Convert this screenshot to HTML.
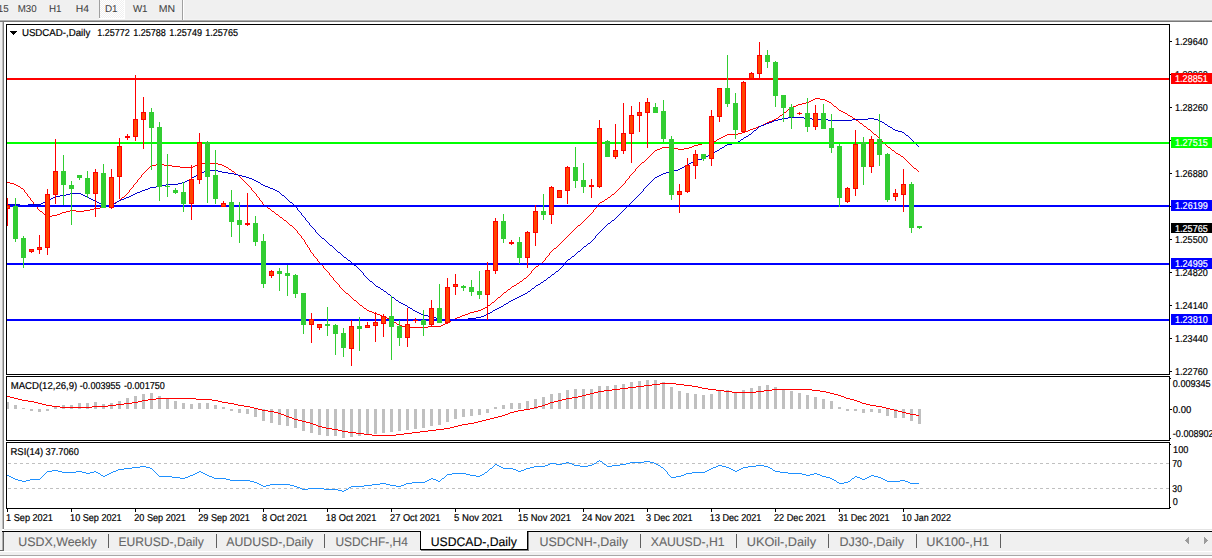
<!DOCTYPE html>
<html><head><meta charset="utf-8"><title>USDCAD-,Daily</title>
<style>
html,body{margin:0;padding:0;background:#fff;overflow:hidden}
svg{display:block;font-family:"Liberation Sans",sans-serif}
</style></head><body>
<svg width="1212" height="558" viewBox="0 0 1212 558" shape-rendering="crispEdges" text-rendering="geometricPrecision">
<defs>
<clipPath id="cm"><rect x="7" y="25" width="1162" height="349"/></clipPath>
<clipPath id="c2"><rect x="7" y="377" width="1162" height="63"/></clipPath>
<clipPath id="c3"><rect x="7" y="443" width="1162" height="65"/></clipPath>
<pattern id="ck" width="2" height="2" patternUnits="userSpaceOnUse"><rect width="2" height="2" fill="#f0f0f0"/><rect width="1" height="1" fill="#ffffff"/><rect x="1" y="1" width="1" height="1" fill="#ffffff"/></pattern>
</defs>
<rect x="0" y="0" width="1212" height="558" fill="#ffffff"/>
<rect x="0" y="0" width="1212" height="19" fill="#f0f0f0"/>
<rect x="0" y="19" width="1212" height="1" fill="#f4f4f4"/>
<rect x="0" y="20" width="1212" height="1" fill="#b0b0b0"/>
<rect x="0" y="21" width="1212" height="1" fill="#787878"/>
<rect x="100" y="0" width="24" height="18" fill="url(#ck)"/>
<rect x="99" y="0" width="1" height="18" fill="#a0a0a0"/>
<rect x="99" y="18" width="26" height="1" fill="#ffffff"/>
<rect x="124" y="0" width="1" height="18" fill="#ffffff"/>
<rect x="182" y="0" width="1" height="20" fill="#a0a0a0"/>
<rect x="183" y="0" width="1" height="20" fill="#ffffff"/>
<text x="-2.31" y="12" font-size="10.0" fill="#404040" stroke="#404040" stroke-width="0.05" textLength="10.90" lengthAdjust="spacingAndGlyphs" xml:space="preserve">15</text>
<text x="17.70" y="12" font-size="10.0" fill="#404040" stroke="#404040" stroke-width="0.05" textLength="18.92" lengthAdjust="spacingAndGlyphs" xml:space="preserve">M30</text>
<text x="48.94" y="12" font-size="10.0" fill="#404040" stroke="#404040" stroke-width="0.05" textLength="12.57" lengthAdjust="spacingAndGlyphs" xml:space="preserve">H1</text>
<text x="75.85" y="12" font-size="10.0" fill="#404040" stroke="#404040" stroke-width="0.05" textLength="13.22" lengthAdjust="spacingAndGlyphs" xml:space="preserve">H4</text>
<text x="104.99" y="12" font-size="10.0" fill="#404040" stroke="#404040" stroke-width="0.05" textLength="12.62" lengthAdjust="spacingAndGlyphs" xml:space="preserve">D1</text>
<text x="132.90" y="12" font-size="10.0" fill="#404040" stroke="#404040" stroke-width="0.05" textLength="14.65" lengthAdjust="spacingAndGlyphs" xml:space="preserve">W1</text>
<text x="158.73" y="12" font-size="10.0" fill="#404040" stroke="#404040" stroke-width="0.05" textLength="16.32" lengthAdjust="spacingAndGlyphs" xml:space="preserve">MN</text>
<rect x="0" y="22" width="2" height="508" fill="#f0f0f0"/>
<rect x="2" y="22" width="1" height="507" fill="#c0c0c0"/>
<rect x="3" y="22" width="1" height="507" fill="#808080"/>
<rect x="0" y="532" width="1212" height="19" fill="#f0f0f0"/>
<rect x="2" y="531" width="1210" height="1" fill="#000"/>
<rect x="0" y="551" width="1212" height="1" fill="#ffffff"/>
<rect x="0" y="552" width="1212" height="3" fill="#f0f0f0"/>
<rect x="0" y="555" width="1212" height="1" fill="#a8a8a8"/>
<rect x="4" y="529" width="1208" height="1" fill="#e4e4e4"/>
<rect x="0" y="556" width="1212" height="2" fill="#ffffff"/>
<rect x="0" y="530" width="2" height="20" fill="#f0f0f0"/>
<rect x="2" y="532" width="1" height="18" fill="#b0b0b0"/>
<rect x="3" y="532" width="1" height="18" fill="#606060"/>
<rect x="0" y="550" width="4" height="1" fill="#696969"/>
<rect x="421" y="531" width="107" height="18" fill="#ffffff"/>
<rect x="420" y="531" width="1" height="19" fill="#000"/>
<rect x="527" y="531" width="1" height="19" fill="#000"/>
<rect x="420" y="549" width="108" height="1" fill="#000"/>
<rect x="528" y="532" width="1" height="19" fill="#808080"/>
<rect x="421" y="550" width="108" height="1" fill="#808080"/>
<text x="18.30" y="546" font-size="12.5" fill="#666666" stroke="#666666" stroke-width="0.1" textLength="78.36" lengthAdjust="spacingAndGlyphs" xml:space="preserve">USDX,Weekly</text>
<text x="118.50" y="546" font-size="12.5" fill="#666666" stroke="#666666" stroke-width="0.1" textLength="85.30" lengthAdjust="spacingAndGlyphs" xml:space="preserve">EURUSD-,Daily</text>
<text x="226.25" y="546" font-size="12.5" fill="#666666" stroke="#666666" stroke-width="0.1" textLength="86.81" lengthAdjust="spacingAndGlyphs" xml:space="preserve">AUDUSD-,Daily</text>
<text x="335.39" y="546" font-size="12.5" fill="#666666" stroke="#666666" stroke-width="0.1" textLength="72.41" lengthAdjust="spacingAndGlyphs" xml:space="preserve">USDCHF-,H4</text>
<text x="430.72" y="546" font-size="12.5" fill="#000" stroke="#000" stroke-width="0.15" textLength="86.14" lengthAdjust="spacingAndGlyphs" xml:space="preserve">USDCAD-,Daily</text>
<text x="539.60" y="546" font-size="12.5" fill="#666666" stroke="#666666" stroke-width="0.1" textLength="88.37" lengthAdjust="spacingAndGlyphs" xml:space="preserve">USDCNH-,Daily</text>
<text x="650.75" y="546" font-size="12.5" fill="#666666" stroke="#666666" stroke-width="0.1" textLength="73.82" lengthAdjust="spacingAndGlyphs" xml:space="preserve">XAUUSD-,H1</text>
<text x="746.83" y="546" font-size="12.5" fill="#666666" stroke="#666666" stroke-width="0.1" textLength="69.19" lengthAdjust="spacingAndGlyphs" xml:space="preserve">UKOil-,Daily</text>
<text x="839.47" y="546" font-size="12.5" fill="#666666" stroke="#666666" stroke-width="0.1" textLength="64.57" lengthAdjust="spacingAndGlyphs" xml:space="preserve">DJ30-,Daily</text>
<text x="926.33" y="546" font-size="12.5" fill="#666666" stroke="#666666" stroke-width="0.1" textLength="62.80" lengthAdjust="spacingAndGlyphs" xml:space="preserve">UK100-,H1</text>
<rect x="108" y="534" width="1" height="14" fill="#606060"/>
<rect x="216" y="534" width="1" height="14" fill="#606060"/>
<rect x="324" y="534" width="1" height="14" fill="#606060"/>
<rect x="640" y="534" width="1" height="14" fill="#606060"/>
<rect x="736" y="534" width="1" height="14" fill="#606060"/>
<rect x="828" y="534" width="1" height="14" fill="#606060"/>
<rect x="916" y="534" width="1" height="14" fill="#606060"/>
<rect x="1000" y="534" width="1" height="14" fill="#606060"/>
<g clip-path="url(#cm)">
<path d="M815 98.5h5M813 99.5h2M820 99.5h5M811 100.5h2M825 100.5h2M809 101.5h2M827 101.5h2M806 102.5h3M829 102.5h2M802 103.5h4M831 103.5h1M798 104.5h4M832 104.5h1M796 105.5h2M833 105.5h1M793 106.5h3M834 106.5h2M791 107.5h2M836 107.5h1M790 108.5h1M837 108.5h1M788 109.5h2M838 109.5h1M787 110.5h1M839 110.5h2M786 111.5h1M841 111.5h2M784 112.5h2M843 112.5h2M783 113.5h1M845 113.5h2M782 114.5h1M847 114.5h1M780 115.5h2M848 115.5h2M779 116.5h1M850 116.5h2M778 117.5h1M852 117.5h1M776 118.5h2M853 118.5h2M774 119.5h2M855 119.5h1M772 120.5h2M856 120.5h2M769 121.5h3M858 121.5h1M767 122.5h2M859 122.5h1M765 123.5h2M860 123.5h2M763 124.5h2M862 124.5h1M761 125.5h2M863 125.5h1M758 126.5h3M864 126.5h2M756 127.5h2M866 127.5h1M753 128.5h3M867 128.5h1M750 129.5h3M868 129.5h2M748 130.5h2M870 130.5h1M745 131.5h3M871 131.5h1M742 132.5h3M872 132.5h1M738 133.5h4M873 133.5h1M727 134.5h11M874 134.5h2M725 135.5h2M876 135.5h1M723 136.5h2M877 136.5h1M721 137.5h2M878 137.5h1M719 138.5h2M879 138.5h1M717 139.5h2M880 139.5h1M716 140.5h1M881 140.5h1M714 141.5h2M882 141.5h1M712 142.5h2M883 142.5h1M702 143.5h10M884 143.5h1M698 144.5h4M885 144.5h1M694 145.5h4M886 145.5h1M692 146.5h2M887 146.5h1M662 147.5h12M689 147.5h3M888 147.5h2M660 148.5h2M674 148.5h4M684 148.5h5M890 148.5h1M657 149.5h3M678 149.5h6M891 149.5h1M655 150.5h2M892 150.5h2M654 151.5h1M894 151.5h1M653 152.5h1M895 152.5h1M652 153.5h1M896 153.5h2M651 154.5h1M898 154.5h2M650 155.5h1M900 155.5h1M649 156.5h1M901 156.5h2M648 157.5h1M903 157.5h1M647 158.5h1M904 158.5h1M646 159.5h1M905 159.5h1M645 160.5h1M906 160.5h1M644 161.5h1M907 161.5h1M642 162.5h2M908 162.5h1M199 163.5h19M641 163.5h1M909 163.5h1M156 164.5h8M197 164.5h2M218 164.5h4M640 164.5h1M910 164.5h1M151 165.5h5M164 165.5h8M195 165.5h2M222 165.5h2M639 165.5h1M911 165.5h1M150 166.5h1M172 166.5h8M193 166.5h2M224 166.5h2M638 166.5h1M912 166.5h1M149 167.5h1M180 167.5h13M226 167.5h2M637 167.5h1M913 167.5h1M148 168.5h1M228 168.5h1M636 168.5h1M914 168.5h2M147 169.5h1M229 169.5h2M635 169.5h1M916 169.5h1M146 170.5h1M231 170.5h1M635 170.5h1M917 170.5h1M145 171.5h1M232 171.5h2M634 171.5h1M918 171.5h1M144 172.5h1M234 172.5h1M633 172.5h1M143 173.5h1M235 173.5h1M632 173.5h1M142 174.5h1M236 174.5h2M631 174.5h1M141 175.5h1M238 175.5h1M630 175.5h1M141 176.5h1M239 176.5h1M629 176.5h1M140 177.5h1M240 177.5h1M629 177.5h1M139 178.5h1M241 178.5h1M628 178.5h1M138 179.5h1M242 179.5h1M627 179.5h1M137 180.5h1M243 180.5h1M626 180.5h1M137 181.5h1M244 181.5h1M625 181.5h1M7 182.5h3M136 182.5h1M245 182.5h1M625 182.5h1M10 183.5h4M135 183.5h1M246 183.5h1M624 183.5h1M14 184.5h2M134 184.5h1M247 184.5h1M623 184.5h1M16 185.5h2M133 185.5h1M248 185.5h1M622 185.5h1M18 186.5h2M133 186.5h1M249 186.5h1M621 186.5h1M20 187.5h1M132 187.5h1M250 187.5h1M620 187.5h1M21 188.5h2M131 188.5h1M251 188.5h1M619 188.5h1M23 189.5h1M130 189.5h1M251 189.5h1M618 189.5h1M24 190.5h1M129 190.5h1M252 190.5h1M617 190.5h1M24 191.5h1M129 191.5h1M253 191.5h1M616 191.5h1M25 192.5h1M128 192.5h1M254 192.5h1M615 192.5h1M26 193.5h1M127 193.5h1M255 193.5h1M614 193.5h1M27 194.5h1M126 194.5h1M256 194.5h1M612 194.5h2M27 195.5h1M125 195.5h1M256 195.5h1M611 195.5h1M28 196.5h1M124 196.5h1M257 196.5h1M610 196.5h1M29 197.5h1M122 197.5h2M258 197.5h1M608 197.5h2M30 198.5h1M121 198.5h1M259 198.5h1M607 198.5h1M30 199.5h1M120 199.5h1M259 199.5h1M605 199.5h2M31 200.5h1M119 200.5h1M260 200.5h1M604 200.5h1M32 201.5h1M117 201.5h2M261 201.5h1M602 201.5h2M33 202.5h1M115 202.5h2M262 202.5h1M600 202.5h2M33 203.5h1M113 203.5h2M262 203.5h1M599 203.5h1M34 204.5h1M110 204.5h3M263 204.5h1M598 204.5h1M35 205.5h1M108 205.5h2M264 205.5h2M597 205.5h1M36 206.5h1M105 206.5h3M266 206.5h1M597 206.5h1M37 207.5h1M100 207.5h5M267 207.5h1M596 207.5h1M37 208.5h1M94 208.5h6M268 208.5h2M595 208.5h1M38 209.5h1M90 209.5h4M270 209.5h1M594 209.5h1M39 210.5h1M70 210.5h6M84 210.5h6M271 210.5h1M593 210.5h1M40 211.5h2M66 211.5h4M76 211.5h8M272 211.5h2M593 211.5h1M42 212.5h1M62 212.5h4M274 212.5h1M592 212.5h1M43 213.5h1M60 213.5h2M275 213.5h1M591 213.5h1M44 214.5h2M57 214.5h3M276 214.5h2M590 214.5h1M46 215.5h1M52 215.5h5M278 215.5h1M589 215.5h1M47 216.5h5M279 216.5h1M588 216.5h1M280 217.5h2M587 217.5h1M282 218.5h1M586 218.5h1M283 219.5h1M585 219.5h1M284 220.5h2M584 220.5h1M286 221.5h1M583 221.5h1M287 222.5h1M582 222.5h1M288 223.5h1M581 223.5h1M289 224.5h1M580 224.5h1M290 225.5h2M578 225.5h2M292 226.5h1M577 226.5h1M293 227.5h1M576 227.5h1M294 228.5h1M575 228.5h1M295 229.5h1M574 229.5h1M296 230.5h1M573 230.5h1M297 231.5h1M572 231.5h1M297 232.5h1M571 232.5h1M298 233.5h1M570 233.5h1M299 234.5h1M569 234.5h1M300 235.5h1M568 235.5h1M301 236.5h1M567 236.5h1M301 237.5h1M566 237.5h1M302 238.5h1M565 238.5h1M303 239.5h1M564 239.5h1M304 240.5h1M563 240.5h1M304 241.5h1M562 241.5h1M305 242.5h1M561 242.5h1M305 243.5h1M560 243.5h1M306 244.5h1M559 244.5h1M307 245.5h1M558 245.5h1M307 246.5h1M557 246.5h1M308 247.5h1M556 247.5h1M309 248.5h1M554 248.5h2M309 249.5h1M553 249.5h1M310 250.5h1M552 250.5h1M310 251.5h1M551 251.5h1M311 252.5h1M550 252.5h1M312 253.5h1M549 253.5h1M313 254.5h1M549 254.5h1M313 255.5h1M548 255.5h1M314 256.5h1M547 256.5h1M315 257.5h1M546 257.5h1M316 258.5h1M545 258.5h1M317 259.5h1M545 259.5h1M317 260.5h1M544 260.5h1M318 261.5h1M543 261.5h1M319 262.5h1M542 262.5h1M320 263.5h1M540 263.5h2M321 264.5h1M539 264.5h1M322 265.5h1M538 265.5h1M323 266.5h1M536 266.5h2M323 267.5h1M535 267.5h1M324 268.5h1M534 268.5h1M325 269.5h1M533 269.5h1M326 270.5h1M532 270.5h1M327 271.5h1M531 271.5h1M328 272.5h1M531 272.5h1M329 273.5h1M530 273.5h1M329 274.5h1M529 274.5h1M330 275.5h1M528 275.5h1M331 276.5h1M527 276.5h1M332 277.5h1M526 277.5h1M333 278.5h1M524 278.5h2M333 279.5h1M523 279.5h1M334 280.5h1M522 280.5h1M335 281.5h1M520 281.5h2M336 282.5h1M519 282.5h1M337 283.5h1M517 283.5h2M338 284.5h1M516 284.5h1M339 285.5h1M514 285.5h2M339 286.5h1M512 286.5h2M340 287.5h1M511 287.5h1M341 288.5h1M510 288.5h1M342 289.5h1M508 289.5h2M343 290.5h1M507 290.5h1M344 291.5h1M506 291.5h1M345 292.5h1M504 292.5h2M346 293.5h2M503 293.5h1M348 294.5h1M502 294.5h1M349 295.5h1M501 295.5h1M350 296.5h1M500 296.5h1M351 297.5h1M498 297.5h2M352 298.5h1M497 298.5h1M353 299.5h1M496 299.5h1M354 300.5h2M495 300.5h1M356 301.5h1M494 301.5h1M357 302.5h1M492 302.5h2M358 303.5h1M491 303.5h1M359 304.5h1M490 304.5h1M360 305.5h2M488 305.5h2M362 306.5h1M487 306.5h1M363 307.5h1M485 307.5h2M364 308.5h2M483 308.5h2M366 309.5h1M481 309.5h2M367 310.5h2M478 310.5h3M369 311.5h3M474 311.5h4M372 312.5h2M470 312.5h4M374 313.5h3M468 313.5h2M377 314.5h3M465 314.5h3M380 315.5h2M462 315.5h3M382 316.5h3M460 316.5h2M385 317.5h2M457 317.5h3M387 318.5h2M455 318.5h2M389 319.5h2M453 319.5h2M391 320.5h1M451 320.5h2M392 321.5h2M449 321.5h2M394 322.5h2M447 322.5h2M396 323.5h1M445 323.5h2M397 324.5h2M443 324.5h2M399 325.5h3M441 325.5h2M402 326.5h4M428 326.5h13M406 327.5h22" fill="none" stroke="#ff0000" stroke-width="1"/>
<path d="M788 117.5h16M782 118.5h6M804 118.5h8M868 118.5h6M778 119.5h4M812 119.5h16M852 119.5h16M874 119.5h4M774 120.5h4M828 120.5h24M878 120.5h2M772 121.5h2M880 121.5h2M769 122.5h3M882 122.5h2M766 123.5h3M884 123.5h1M764 124.5h2M885 124.5h2M761 125.5h3M887 125.5h1M759 126.5h2M888 126.5h2M758 127.5h1M890 127.5h2M757 128.5h1M892 128.5h1M756 129.5h1M893 129.5h2M754 130.5h2M895 130.5h3M753 131.5h1M898 131.5h4M752 132.5h1M902 132.5h2M751 133.5h1M904 133.5h1M749 134.5h2M905 134.5h1M748 135.5h1M906 135.5h2M746 136.5h2M908 136.5h1M744 137.5h2M909 137.5h1M743 138.5h1M910 138.5h1M741 139.5h2M911 139.5h1M740 140.5h1M912 140.5h1M738 141.5h2M913 141.5h1M736 142.5h2M914 142.5h1M732 143.5h4M915 143.5h1M727 144.5h5M916 144.5h1M725 145.5h2M917 145.5h1M724 146.5h1M918 146.5h1M722 147.5h2M720 148.5h2M719 149.5h1M717 150.5h2M715 151.5h2M713 152.5h2M711 153.5h2M709 154.5h2M708 155.5h1M706 156.5h2M704 157.5h2M702 158.5h2M698 159.5h4M695 160.5h3M693 161.5h2M691 162.5h2M689 163.5h2M687 164.5h2M685 165.5h2M684 166.5h1M682 167.5h2M680 168.5h2M678 169.5h2M206 170.5h12M674 170.5h4M204 171.5h2M218 171.5h4M670 171.5h4M201 172.5h3M222 172.5h6M666 172.5h4M199 173.5h2M228 173.5h6M663 173.5h3M197 174.5h2M234 174.5h4M661 174.5h2M196 175.5h1M238 175.5h4M659 175.5h2M194 176.5h2M242 176.5h4M657 176.5h2M192 177.5h2M246 177.5h3M655 177.5h2M191 178.5h1M249 178.5h3M654 178.5h1M189 179.5h2M252 179.5h2M653 179.5h1M187 180.5h2M254 180.5h2M652 180.5h1M185 181.5h2M256 181.5h2M651 181.5h1M182 182.5h3M258 182.5h2M650 182.5h1M178 183.5h4M260 183.5h1M649 183.5h1M166 184.5h12M261 184.5h2M648 184.5h1M162 185.5h4M263 185.5h2M647 185.5h1M156 186.5h6M265 186.5h3M646 186.5h1M150 187.5h6M268 187.5h2M645 187.5h1M148 188.5h2M270 188.5h3M644 188.5h1M145 189.5h3M273 189.5h2M643 189.5h1M142 190.5h3M275 190.5h2M643 190.5h1M140 191.5h2M277 191.5h2M642 191.5h1M137 192.5h3M279 192.5h1M641 192.5h1M70 193.5h11M135 193.5h2M280 193.5h1M640 193.5h1M66 194.5h4M81 194.5h2M133 194.5h2M281 194.5h1M639 194.5h1M60 195.5h6M83 195.5h2M131 195.5h2M282 195.5h2M638 195.5h1M55 196.5h5M85 196.5h2M129 196.5h2M284 196.5h1M637 196.5h1M53 197.5h2M87 197.5h2M126 197.5h3M285 197.5h1M636 197.5h1M51 198.5h2M89 198.5h2M124 198.5h2M286 198.5h1M635 198.5h1M49 199.5h2M91 199.5h2M121 199.5h3M287 199.5h1M634 199.5h1M47 200.5h2M93 200.5h2M119 200.5h2M288 200.5h1M633 200.5h1M45 201.5h2M95 201.5h2M117 201.5h2M289 201.5h1M632 201.5h1M43 202.5h2M97 202.5h2M116 202.5h1M290 202.5h2M631 202.5h1M41 203.5h2M99 203.5h2M114 203.5h2M292 203.5h1M630 203.5h1M7 204.5h13M28 204.5h13M101 204.5h2M112 204.5h2M293 204.5h1M629 204.5h1M20 205.5h8M103 205.5h9M294 205.5h1M628 205.5h1M295 206.5h1M627 206.5h1M296 207.5h1M626 207.5h1M297 208.5h1M625 208.5h1M297 209.5h1M624 209.5h1M298 210.5h1M623 210.5h1M299 211.5h1M622 211.5h1M300 212.5h1M621 212.5h1M301 213.5h1M620 213.5h1M301 214.5h1M619 214.5h1M302 215.5h1M618 215.5h1M303 216.5h1M617 216.5h1M304 217.5h1M616 217.5h1M305 218.5h1M615 218.5h1M305 219.5h1M614 219.5h1M306 220.5h1M612 220.5h2M307 221.5h1M611 221.5h1M308 222.5h1M610 222.5h1M309 223.5h1M608 223.5h2M309 224.5h1M607 224.5h1M310 225.5h1M606 225.5h1M311 226.5h1M605 226.5h1M312 227.5h1M604 227.5h1M313 228.5h1M603 228.5h1M314 229.5h1M602 229.5h1M315 230.5h1M601 230.5h1M315 231.5h1M600 231.5h1M316 232.5h1M599 232.5h1M317 233.5h1M598 233.5h1M318 234.5h1M597 234.5h1M319 235.5h1M596 235.5h1M320 236.5h1M595 236.5h1M321 237.5h1M595 237.5h1M322 238.5h2M594 238.5h1M324 239.5h1M593 239.5h1M325 240.5h1M592 240.5h1M326 241.5h1M591 241.5h1M327 242.5h1M590 242.5h1M328 243.5h1M588 243.5h2M329 244.5h1M587 244.5h1M330 245.5h2M586 245.5h1M332 246.5h1M584 246.5h2M333 247.5h1M583 247.5h1M334 248.5h1M582 248.5h1M335 249.5h1M581 249.5h1M336 250.5h1M580 250.5h1M337 251.5h1M578 251.5h2M338 252.5h2M577 252.5h1M340 253.5h1M576 253.5h1M341 254.5h1M575 254.5h1M342 255.5h1M574 255.5h1M343 256.5h1M572 256.5h2M344 257.5h2M571 257.5h1M346 258.5h1M570 258.5h1M347 259.5h1M568 259.5h2M348 260.5h2M567 260.5h1M350 261.5h1M566 261.5h1M351 262.5h1M565 262.5h1M352 263.5h1M564 263.5h1M353 264.5h1M563 264.5h1M354 265.5h2M563 265.5h1M356 266.5h1M562 266.5h1M357 267.5h1M561 267.5h1M358 268.5h1M560 268.5h1M359 269.5h1M559 269.5h1M360 270.5h1M558 270.5h1M361 271.5h1M556 271.5h2M362 272.5h1M555 272.5h1M363 273.5h1M554 273.5h1M363 274.5h1M552 274.5h2M364 275.5h1M551 275.5h1M365 276.5h1M550 276.5h1M366 277.5h1M548 277.5h2M367 278.5h1M547 278.5h1M368 279.5h1M546 279.5h1M369 280.5h1M544 280.5h2M370 281.5h2M543 281.5h1M372 282.5h1M541 282.5h2M373 283.5h1M540 283.5h1M374 284.5h1M538 284.5h2M375 285.5h1M536 285.5h2M376 286.5h2M535 286.5h1M378 287.5h2M534 287.5h1M380 288.5h1M532 288.5h2M381 289.5h2M531 289.5h1M383 290.5h1M530 290.5h1M384 291.5h2M528 291.5h2M386 292.5h1M527 292.5h1M387 293.5h1M525 293.5h2M388 294.5h2M523 294.5h2M390 295.5h1M521 295.5h2M391 296.5h1M519 296.5h2M392 297.5h2M517 297.5h2M394 298.5h1M515 298.5h2M395 299.5h1M513 299.5h2M396 300.5h2M511 300.5h2M398 301.5h1M509 301.5h2M399 302.5h2M508 302.5h1M401 303.5h2M506 303.5h2M403 304.5h2M504 304.5h2M405 305.5h2M503 305.5h1M407 306.5h1M501 306.5h2M408 307.5h2M499 307.5h2M410 308.5h2M497 308.5h2M412 309.5h1M495 309.5h2M413 310.5h2M493 310.5h2M415 311.5h2M492 311.5h1M417 312.5h2M490 312.5h2M419 313.5h2M488 313.5h2M421 314.5h2M486 314.5h2M423 315.5h5M484 315.5h2M428 316.5h5M481 316.5h3M433 317.5h3M476 317.5h5M436 318.5h2M468 318.5h8M438 319.5h14M460 319.5h8M452 320.5h8" fill="none" stroke="#0000cd" stroke-width="1"/>
<rect x="7" y="78" width="1162" height="2" fill="#ff0000"/>
<rect x="7" y="142" width="1162" height="2" fill="#00ff00"/>
<rect x="7" y="205" width="1162" height="2" fill="#0000ff"/>
<rect x="7" y="263" width="1162" height="2" fill="#0000ff"/>
<rect x="7" y="319" width="1162" height="2" fill="#0000ff"/>
<rect x="7" y="198" width="1" height="28" fill="#ff0000"/>
<rect x="5" y="205" width="5" height="4" fill="#ff0000"/>
<rect x="6" y="206" width="3" height="2" fill="#ff4500"/>
<rect x="15" y="198" width="1" height="44" fill="#32cd32"/>
<rect x="13" y="206" width="5" height="33" fill="#32cd32"/>
<rect x="23" y="236" width="1" height="32" fill="#32cd32"/>
<rect x="21" y="238" width="5" height="20" fill="#32cd32"/>
<rect x="31" y="249" width="1" height="4" fill="#ff0000"/>
<rect x="29" y="249" width="5" height="3" fill="#ff0000"/>
<rect x="30" y="250" width="3" height="1" fill="#ff4500"/>
<rect x="39" y="235" width="1" height="19" fill="#ff0000"/>
<rect x="37" y="247" width="5" height="3" fill="#ff0000"/>
<rect x="38" y="248" width="3" height="1" fill="#ff4500"/>
<rect x="47" y="189" width="1" height="66" fill="#ff0000"/>
<rect x="45" y="194" width="5" height="54" fill="#ff0000"/>
<rect x="46" y="195" width="3" height="52" fill="#ff4500"/>
<rect x="55" y="139" width="1" height="65" fill="#ff0000"/>
<rect x="53" y="171" width="5" height="24" fill="#ff0000"/>
<rect x="54" y="172" width="3" height="22" fill="#ff4500"/>
<rect x="63" y="155" width="1" height="50" fill="#32cd32"/>
<rect x="61" y="171" width="5" height="14" fill="#32cd32"/>
<rect x="71" y="181" width="1" height="44" fill="#32cd32"/>
<rect x="69" y="185" width="5" height="4" fill="#32cd32"/>
<rect x="79" y="175" width="1" height="5" fill="#32cd32"/>
<rect x="77" y="175" width="5" height="3" fill="#32cd32"/>
<rect x="87" y="171" width="1" height="27" fill="#32cd32"/>
<rect x="85" y="178" width="5" height="16" fill="#32cd32"/>
<rect x="95" y="169" width="1" height="48" fill="#ff0000"/>
<rect x="93" y="172" width="5" height="22" fill="#ff0000"/>
<rect x="94" y="173" width="3" height="20" fill="#ff4500"/>
<rect x="103" y="164" width="1" height="44" fill="#32cd32"/>
<rect x="101" y="173" width="5" height="35" fill="#32cd32"/>
<rect x="111" y="169" width="1" height="40" fill="#ff0000"/>
<rect x="109" y="177" width="5" height="31" fill="#ff0000"/>
<rect x="110" y="178" width="3" height="29" fill="#ff4500"/>
<rect x="119" y="138" width="1" height="61" fill="#ff0000"/>
<rect x="117" y="146" width="5" height="31" fill="#ff0000"/>
<rect x="118" y="147" width="3" height="29" fill="#ff4500"/>
<rect x="127" y="134" width="1" height="6" fill="#ff0000"/>
<rect x="125" y="136" width="5" height="2" fill="#ff0000"/>
<rect x="135" y="75" width="1" height="66" fill="#ff0000"/>
<rect x="133" y="119" width="5" height="18" fill="#ff0000"/>
<rect x="134" y="120" width="3" height="16" fill="#ff4500"/>
<rect x="143" y="97" width="1" height="52" fill="#ff0000"/>
<rect x="141" y="112" width="5" height="8" fill="#ff0000"/>
<rect x="142" y="113" width="3" height="6" fill="#ff4500"/>
<rect x="151" y="108" width="1" height="62" fill="#32cd32"/>
<rect x="149" y="112" width="5" height="16" fill="#32cd32"/>
<rect x="159" y="122" width="1" height="79" fill="#32cd32"/>
<rect x="157" y="127" width="5" height="60" fill="#32cd32"/>
<rect x="167" y="154" width="1" height="43" fill="#32cd32"/>
<rect x="165" y="186" width="5" height="1" fill="#32cd32"/>
<rect x="175" y="188" width="1" height="6" fill="#32cd32"/>
<rect x="173" y="190" width="5" height="3" fill="#32cd32"/>
<rect x="183" y="182" width="1" height="30" fill="#32cd32"/>
<rect x="181" y="192" width="5" height="12" fill="#32cd32"/>
<rect x="191" y="165" width="1" height="55" fill="#ff0000"/>
<rect x="189" y="179" width="5" height="25" fill="#ff0000"/>
<rect x="190" y="180" width="3" height="23" fill="#ff4500"/>
<rect x="199" y="133" width="1" height="51" fill="#ff0000"/>
<rect x="197" y="142" width="5" height="38" fill="#ff0000"/>
<rect x="198" y="143" width="3" height="36" fill="#ff4500"/>
<rect x="207" y="141" width="1" height="62" fill="#32cd32"/>
<rect x="205" y="142" width="5" height="35" fill="#32cd32"/>
<rect x="215" y="150" width="1" height="54" fill="#32cd32"/>
<rect x="213" y="175" width="5" height="24" fill="#32cd32"/>
<rect x="223" y="201" width="1" height="6" fill="#ff0000"/>
<rect x="221" y="203" width="5" height="4" fill="#ff0000"/>
<rect x="222" y="204" width="3" height="2" fill="#ff4500"/>
<rect x="231" y="190" width="1" height="47" fill="#32cd32"/>
<rect x="229" y="202" width="5" height="20" fill="#32cd32"/>
<rect x="239" y="202" width="1" height="41" fill="#32cd32"/>
<rect x="237" y="220" width="5" height="5" fill="#32cd32"/>
<rect x="247" y="193" width="1" height="33" fill="#ff0000"/>
<rect x="245" y="223" width="5" height="2" fill="#ff0000"/>
<rect x="255" y="216" width="1" height="30" fill="#32cd32"/>
<rect x="253" y="223" width="5" height="19" fill="#32cd32"/>
<rect x="263" y="234" width="1" height="54" fill="#32cd32"/>
<rect x="261" y="241" width="5" height="43" fill="#32cd32"/>
<rect x="271" y="270" width="1" height="8" fill="#ff0000"/>
<rect x="269" y="271" width="5" height="5" fill="#ff0000"/>
<rect x="270" y="272" width="3" height="3" fill="#ff4500"/>
<rect x="279" y="268" width="1" height="23" fill="#32cd32"/>
<rect x="277" y="271" width="5" height="3" fill="#32cd32"/>
<rect x="287" y="265" width="1" height="31" fill="#32cd32"/>
<rect x="285" y="273" width="5" height="3" fill="#32cd32"/>
<rect x="295" y="274" width="1" height="24" fill="#32cd32"/>
<rect x="293" y="275" width="5" height="19" fill="#32cd32"/>
<rect x="303" y="293" width="1" height="41" fill="#32cd32"/>
<rect x="301" y="293" width="5" height="32" fill="#32cd32"/>
<rect x="311" y="313" width="1" height="30" fill="#ff0000"/>
<rect x="309" y="319" width="5" height="6" fill="#ff0000"/>
<rect x="310" y="320" width="3" height="4" fill="#ff4500"/>
<rect x="319" y="324" width="1" height="6" fill="#ff0000"/>
<rect x="317" y="324" width="5" height="4" fill="#ff0000"/>
<rect x="318" y="325" width="3" height="2" fill="#ff4500"/>
<rect x="327" y="307" width="1" height="29" fill="#32cd32"/>
<rect x="325" y="324" width="5" height="2" fill="#32cd32"/>
<rect x="335" y="324" width="1" height="31" fill="#32cd32"/>
<rect x="333" y="325" width="5" height="9" fill="#32cd32"/>
<rect x="343" y="328" width="1" height="29" fill="#32cd32"/>
<rect x="341" y="333" width="5" height="15" fill="#32cd32"/>
<rect x="351" y="320" width="1" height="46" fill="#ff0000"/>
<rect x="349" y="326" width="5" height="23" fill="#ff0000"/>
<rect x="350" y="327" width="3" height="21" fill="#ff4500"/>
<rect x="359" y="317" width="1" height="34" fill="#32cd32"/>
<rect x="357" y="326" width="5" height="3" fill="#32cd32"/>
<rect x="367" y="322" width="1" height="6" fill="#ff0000"/>
<rect x="365" y="325" width="5" height="3" fill="#ff0000"/>
<rect x="366" y="326" width="3" height="1" fill="#ff4500"/>
<rect x="375" y="312" width="1" height="30" fill="#ff0000"/>
<rect x="373" y="322" width="5" height="4" fill="#ff0000"/>
<rect x="374" y="323" width="3" height="2" fill="#ff4500"/>
<rect x="383" y="314" width="1" height="23" fill="#ff0000"/>
<rect x="381" y="316" width="5" height="8" fill="#ff0000"/>
<rect x="382" y="317" width="3" height="6" fill="#ff4500"/>
<rect x="391" y="296" width="1" height="64" fill="#32cd32"/>
<rect x="389" y="316" width="5" height="11" fill="#32cd32"/>
<rect x="399" y="320" width="1" height="26" fill="#32cd32"/>
<rect x="397" y="326" width="5" height="12" fill="#32cd32"/>
<rect x="407" y="308" width="1" height="39" fill="#ff0000"/>
<rect x="405" y="324" width="5" height="14" fill="#ff0000"/>
<rect x="406" y="325" width="3" height="12" fill="#ff4500"/>
<rect x="415" y="318" width="1" height="5" fill="#ff0000"/>
<rect x="413" y="320" width="5" height="1" fill="#ff0000"/>
<rect x="423" y="310" width="1" height="26" fill="#32cd32"/>
<rect x="421" y="320" width="5" height="5" fill="#32cd32"/>
<rect x="431" y="300" width="1" height="26" fill="#ff0000"/>
<rect x="429" y="308" width="5" height="17" fill="#ff0000"/>
<rect x="430" y="309" width="3" height="15" fill="#ff4500"/>
<rect x="439" y="284" width="1" height="39" fill="#32cd32"/>
<rect x="437" y="308" width="5" height="15" fill="#32cd32"/>
<rect x="447" y="278" width="1" height="46" fill="#ff0000"/>
<rect x="445" y="287" width="5" height="36" fill="#ff0000"/>
<rect x="446" y="288" width="3" height="34" fill="#ff4500"/>
<rect x="455" y="274" width="1" height="21" fill="#ff0000"/>
<rect x="453" y="284" width="5" height="3" fill="#ff0000"/>
<rect x="454" y="285" width="3" height="1" fill="#ff4500"/>
<rect x="463" y="285" width="1" height="6" fill="#32cd32"/>
<rect x="461" y="286" width="5" height="2" fill="#32cd32"/>
<rect x="471" y="280" width="1" height="16" fill="#32cd32"/>
<rect x="469" y="287" width="5" height="5" fill="#32cd32"/>
<rect x="479" y="271" width="1" height="28" fill="#32cd32"/>
<rect x="477" y="291" width="5" height="4" fill="#32cd32"/>
<rect x="487" y="262" width="1" height="58" fill="#ff0000"/>
<rect x="485" y="270" width="5" height="25" fill="#ff0000"/>
<rect x="486" y="271" width="3" height="23" fill="#ff4500"/>
<rect x="495" y="218" width="1" height="56" fill="#ff0000"/>
<rect x="493" y="221" width="5" height="50" fill="#ff0000"/>
<rect x="494" y="222" width="3" height="48" fill="#ff4500"/>
<rect x="503" y="214" width="1" height="29" fill="#32cd32"/>
<rect x="501" y="221" width="5" height="18" fill="#32cd32"/>
<rect x="511" y="240" width="1" height="5" fill="#ff0000"/>
<rect x="509" y="242" width="5" height="2" fill="#ff0000"/>
<rect x="519" y="237" width="1" height="27" fill="#32cd32"/>
<rect x="517" y="242" width="5" height="16" fill="#32cd32"/>
<rect x="527" y="231" width="1" height="37" fill="#ff0000"/>
<rect x="525" y="232" width="5" height="26" fill="#ff0000"/>
<rect x="526" y="233" width="3" height="24" fill="#ff4500"/>
<rect x="535" y="205" width="1" height="41" fill="#ff0000"/>
<rect x="533" y="211" width="5" height="22" fill="#ff0000"/>
<rect x="534" y="212" width="3" height="20" fill="#ff4500"/>
<rect x="543" y="194" width="1" height="26" fill="#32cd32"/>
<rect x="541" y="211" width="5" height="4" fill="#32cd32"/>
<rect x="551" y="186" width="1" height="38" fill="#ff0000"/>
<rect x="549" y="187" width="5" height="28" fill="#ff0000"/>
<rect x="550" y="188" width="3" height="26" fill="#ff4500"/>
<rect x="559" y="190" width="1" height="8" fill="#ff0000"/>
<rect x="557" y="190" width="5" height="8" fill="#ff0000"/>
<rect x="558" y="191" width="3" height="6" fill="#ff4500"/>
<rect x="567" y="166" width="1" height="38" fill="#ff0000"/>
<rect x="565" y="167" width="5" height="24" fill="#ff0000"/>
<rect x="566" y="168" width="3" height="22" fill="#ff4500"/>
<rect x="575" y="147" width="1" height="41" fill="#32cd32"/>
<rect x="573" y="167" width="5" height="14" fill="#32cd32"/>
<rect x="583" y="163" width="1" height="30" fill="#32cd32"/>
<rect x="581" y="180" width="5" height="7" fill="#32cd32"/>
<rect x="591" y="179" width="1" height="19" fill="#ff0000"/>
<rect x="589" y="185" width="5" height="2" fill="#ff0000"/>
<rect x="599" y="120" width="1" height="68" fill="#ff0000"/>
<rect x="597" y="128" width="5" height="59" fill="#ff0000"/>
<rect x="598" y="129" width="3" height="57" fill="#ff4500"/>
<rect x="607" y="140" width="1" height="17" fill="#32cd32"/>
<rect x="605" y="141" width="5" height="16" fill="#32cd32"/>
<rect x="615" y="124" width="1" height="35" fill="#ff0000"/>
<rect x="613" y="150" width="5" height="7" fill="#ff0000"/>
<rect x="614" y="151" width="3" height="5" fill="#ff4500"/>
<rect x="623" y="103" width="1" height="51" fill="#ff0000"/>
<rect x="621" y="133" width="5" height="18" fill="#ff0000"/>
<rect x="622" y="134" width="3" height="16" fill="#ff4500"/>
<rect x="631" y="106" width="1" height="57" fill="#ff0000"/>
<rect x="629" y="115" width="5" height="19" fill="#ff0000"/>
<rect x="630" y="116" width="3" height="17" fill="#ff4500"/>
<rect x="639" y="102" width="1" height="30" fill="#ff0000"/>
<rect x="637" y="112" width="5" height="4" fill="#ff0000"/>
<rect x="638" y="113" width="3" height="2" fill="#ff4500"/>
<rect x="647" y="98" width="1" height="50" fill="#ff0000"/>
<rect x="645" y="102" width="5" height="11" fill="#ff0000"/>
<rect x="646" y="103" width="3" height="9" fill="#ff4500"/>
<rect x="655" y="103" width="1" height="10" fill="#32cd32"/>
<rect x="653" y="107" width="5" height="6" fill="#32cd32"/>
<rect x="663" y="100" width="1" height="42" fill="#32cd32"/>
<rect x="661" y="111" width="5" height="28" fill="#32cd32"/>
<rect x="671" y="136" width="1" height="64" fill="#32cd32"/>
<rect x="669" y="139" width="5" height="56" fill="#32cd32"/>
<rect x="679" y="184" width="1" height="29" fill="#ff0000"/>
<rect x="677" y="191" width="5" height="4" fill="#ff0000"/>
<rect x="678" y="192" width="3" height="2" fill="#ff4500"/>
<rect x="687" y="158" width="1" height="35" fill="#ff0000"/>
<rect x="685" y="165" width="5" height="27" fill="#ff0000"/>
<rect x="686" y="166" width="3" height="25" fill="#ff4500"/>
<rect x="695" y="150" width="1" height="29" fill="#ff0000"/>
<rect x="693" y="154" width="5" height="12" fill="#ff0000"/>
<rect x="694" y="155" width="3" height="10" fill="#ff4500"/>
<rect x="703" y="154" width="1" height="7" fill="#32cd32"/>
<rect x="701" y="154" width="5" height="5" fill="#32cd32"/>
<rect x="711" y="110" width="1" height="56" fill="#ff0000"/>
<rect x="709" y="116" width="5" height="43" fill="#ff0000"/>
<rect x="710" y="117" width="3" height="41" fill="#ff4500"/>
<rect x="719" y="88" width="1" height="34" fill="#ff0000"/>
<rect x="717" y="88" width="5" height="29" fill="#ff0000"/>
<rect x="718" y="89" width="3" height="27" fill="#ff4500"/>
<rect x="727" y="55" width="1" height="52" fill="#32cd32"/>
<rect x="725" y="88" width="5" height="16" fill="#32cd32"/>
<rect x="735" y="93" width="1" height="46" fill="#32cd32"/>
<rect x="733" y="103" width="5" height="27" fill="#32cd32"/>
<rect x="743" y="81" width="1" height="52" fill="#ff0000"/>
<rect x="741" y="82" width="5" height="50" fill="#ff0000"/>
<rect x="742" y="83" width="3" height="48" fill="#ff4500"/>
<rect x="751" y="72" width="1" height="7" fill="#ff0000"/>
<rect x="749" y="73" width="5" height="6" fill="#ff0000"/>
<rect x="750" y="74" width="3" height="4" fill="#ff4500"/>
<rect x="759" y="42" width="1" height="36" fill="#ff0000"/>
<rect x="757" y="55" width="5" height="19" fill="#ff0000"/>
<rect x="758" y="56" width="3" height="17" fill="#ff4500"/>
<rect x="767" y="50" width="1" height="18" fill="#32cd32"/>
<rect x="765" y="55" width="5" height="7" fill="#32cd32"/>
<rect x="775" y="61" width="1" height="46" fill="#32cd32"/>
<rect x="773" y="62" width="5" height="34" fill="#32cd32"/>
<rect x="783" y="95" width="1" height="27" fill="#32cd32"/>
<rect x="781" y="95" width="5" height="13" fill="#32cd32"/>
<rect x="791" y="104" width="1" height="25" fill="#32cd32"/>
<rect x="789" y="107" width="5" height="10" fill="#32cd32"/>
<rect x="799" y="112" width="1" height="3" fill="#ff0000"/>
<rect x="797" y="113" width="5" height="1" fill="#ff0000"/>
<rect x="807" y="98" width="1" height="34" fill="#32cd32"/>
<rect x="805" y="113" width="5" height="14" fill="#32cd32"/>
<rect x="815" y="105" width="1" height="25" fill="#ff0000"/>
<rect x="813" y="113" width="5" height="14" fill="#ff0000"/>
<rect x="814" y="114" width="3" height="12" fill="#ff4500"/>
<rect x="823" y="104" width="1" height="25" fill="#32cd32"/>
<rect x="821" y="113" width="5" height="16" fill="#32cd32"/>
<rect x="831" y="114" width="1" height="39" fill="#32cd32"/>
<rect x="829" y="128" width="5" height="20" fill="#32cd32"/>
<rect x="839" y="144" width="1" height="63" fill="#32cd32"/>
<rect x="837" y="146" width="5" height="52" fill="#32cd32"/>
<rect x="847" y="187" width="1" height="16" fill="#ff0000"/>
<rect x="845" y="188" width="5" height="14" fill="#ff0000"/>
<rect x="846" y="189" width="3" height="12" fill="#ff4500"/>
<rect x="855" y="130" width="1" height="66" fill="#ff0000"/>
<rect x="853" y="144" width="5" height="45" fill="#ff0000"/>
<rect x="854" y="145" width="3" height="43" fill="#ff4500"/>
<rect x="863" y="137" width="1" height="48" fill="#32cd32"/>
<rect x="861" y="142" width="5" height="25" fill="#32cd32"/>
<rect x="871" y="136" width="1" height="37" fill="#ff0000"/>
<rect x="869" y="139" width="5" height="28" fill="#ff0000"/>
<rect x="870" y="140" width="3" height="26" fill="#ff4500"/>
<rect x="879" y="114" width="1" height="52" fill="#32cd32"/>
<rect x="877" y="139" width="5" height="16" fill="#32cd32"/>
<rect x="887" y="153" width="1" height="49" fill="#32cd32"/>
<rect x="885" y="154" width="5" height="46" fill="#32cd32"/>
<rect x="895" y="189" width="1" height="12" fill="#ff0000"/>
<rect x="893" y="193" width="5" height="4" fill="#ff0000"/>
<rect x="894" y="194" width="3" height="2" fill="#ff4500"/>
<rect x="903" y="169" width="1" height="43" fill="#ff0000"/>
<rect x="901" y="184" width="5" height="11" fill="#ff0000"/>
<rect x="902" y="185" width="3" height="9" fill="#ff4500"/>
<rect x="911" y="182" width="1" height="51" fill="#32cd32"/>
<rect x="909" y="184" width="5" height="44" fill="#32cd32"/>
<rect x="919" y="226" width="1" height="3" fill="#32cd32"/>
<rect x="917" y="226" width="5" height="2" fill="#32cd32"/>
</g>
<g clip-path="url(#c2)">
<rect x="6" y="402" width="3" height="7" fill="#c0c0c0"/>
<rect x="14" y="405" width="3" height="4" fill="#c0c0c0"/>
<rect x="22" y="408" width="3" height="1" fill="#c0c0c0"/>
<rect x="30" y="409" width="3" height="2" fill="#c0c0c0"/>
<rect x="38" y="409" width="3" height="3" fill="#c0c0c0"/>
<rect x="46" y="409" width="3" height="2" fill="#c0c0c0"/>
<rect x="54" y="407" width="3" height="2" fill="#c0c0c0"/>
<rect x="62" y="405" width="3" height="4" fill="#c0c0c0"/>
<rect x="70" y="405" width="3" height="4" fill="#c0c0c0"/>
<rect x="78" y="403" width="3" height="6" fill="#c0c0c0"/>
<rect x="86" y="403" width="3" height="6" fill="#c0c0c0"/>
<rect x="94" y="402" width="3" height="7" fill="#c0c0c0"/>
<rect x="102" y="404" width="3" height="5" fill="#c0c0c0"/>
<rect x="110" y="403" width="3" height="6" fill="#c0c0c0"/>
<rect x="118" y="401" width="3" height="8" fill="#c0c0c0"/>
<rect x="126" y="398" width="3" height="11" fill="#c0c0c0"/>
<rect x="134" y="396" width="3" height="13" fill="#c0c0c0"/>
<rect x="142" y="394" width="3" height="15" fill="#c0c0c0"/>
<rect x="150" y="393" width="3" height="16" fill="#c0c0c0"/>
<rect x="158" y="396" width="3" height="13" fill="#c0c0c0"/>
<rect x="166" y="399" width="3" height="10" fill="#c0c0c0"/>
<rect x="174" y="401" width="3" height="8" fill="#c0c0c0"/>
<rect x="182" y="403" width="3" height="6" fill="#c0c0c0"/>
<rect x="190" y="404" width="3" height="5" fill="#c0c0c0"/>
<rect x="198" y="403" width="3" height="6" fill="#c0c0c0"/>
<rect x="206" y="403" width="3" height="6" fill="#c0c0c0"/>
<rect x="214" y="405" width="3" height="4" fill="#c0c0c0"/>
<rect x="222" y="407" width="3" height="2" fill="#c0c0c0"/>
<rect x="230" y="409" width="3" height="2" fill="#c0c0c0"/>
<rect x="238" y="409" width="3" height="4" fill="#c0c0c0"/>
<rect x="246" y="409" width="3" height="5" fill="#c0c0c0"/>
<rect x="254" y="409" width="3" height="8" fill="#c0c0c0"/>
<rect x="262" y="409" width="3" height="12" fill="#c0c0c0"/>
<rect x="270" y="409" width="3" height="14" fill="#c0c0c0"/>
<rect x="278" y="409" width="3" height="16" fill="#c0c0c0"/>
<rect x="286" y="409" width="3" height="17" fill="#c0c0c0"/>
<rect x="294" y="409" width="3" height="19" fill="#c0c0c0"/>
<rect x="302" y="409" width="3" height="22" fill="#c0c0c0"/>
<rect x="310" y="409" width="3" height="24" fill="#c0c0c0"/>
<rect x="318" y="409" width="3" height="26" fill="#c0c0c0"/>
<rect x="326" y="409" width="3" height="27" fill="#c0c0c0"/>
<rect x="334" y="409" width="3" height="27" fill="#c0c0c0"/>
<rect x="342" y="409" width="3" height="29" fill="#c0c0c0"/>
<rect x="350" y="409" width="3" height="28" fill="#c0c0c0"/>
<rect x="358" y="409" width="3" height="27" fill="#c0c0c0"/>
<rect x="366" y="409" width="3" height="26" fill="#c0c0c0"/>
<rect x="374" y="409" width="3" height="25" fill="#c0c0c0"/>
<rect x="382" y="409" width="3" height="24" fill="#c0c0c0"/>
<rect x="390" y="409" width="3" height="23" fill="#c0c0c0"/>
<rect x="398" y="409" width="3" height="22" fill="#c0c0c0"/>
<rect x="406" y="409" width="3" height="21" fill="#c0c0c0"/>
<rect x="414" y="409" width="3" height="20" fill="#c0c0c0"/>
<rect x="422" y="409" width="3" height="19" fill="#c0c0c0"/>
<rect x="430" y="409" width="3" height="17" fill="#c0c0c0"/>
<rect x="438" y="409" width="3" height="16" fill="#c0c0c0"/>
<rect x="446" y="409" width="3" height="13" fill="#c0c0c0"/>
<rect x="454" y="409" width="3" height="10" fill="#c0c0c0"/>
<rect x="462" y="409" width="3" height="8" fill="#c0c0c0"/>
<rect x="470" y="409" width="3" height="7" fill="#c0c0c0"/>
<rect x="478" y="409" width="3" height="6" fill="#c0c0c0"/>
<rect x="486" y="409" width="3" height="4" fill="#c0c0c0"/>
<rect x="494" y="407" width="3" height="2" fill="#c0c0c0"/>
<rect x="502" y="405" width="3" height="4" fill="#c0c0c0"/>
<rect x="510" y="403" width="3" height="6" fill="#c0c0c0"/>
<rect x="518" y="403" width="3" height="6" fill="#c0c0c0"/>
<rect x="526" y="401" width="3" height="8" fill="#c0c0c0"/>
<rect x="534" y="399" width="3" height="10" fill="#c0c0c0"/>
<rect x="542" y="397" width="3" height="12" fill="#c0c0c0"/>
<rect x="550" y="394" width="3" height="15" fill="#c0c0c0"/>
<rect x="558" y="393" width="3" height="16" fill="#c0c0c0"/>
<rect x="566" y="390" width="3" height="19" fill="#c0c0c0"/>
<rect x="574" y="389" width="3" height="20" fill="#c0c0c0"/>
<rect x="582" y="389" width="3" height="20" fill="#c0c0c0"/>
<rect x="590" y="389" width="3" height="20" fill="#c0c0c0"/>
<rect x="598" y="386" width="3" height="23" fill="#c0c0c0"/>
<rect x="606" y="386" width="3" height="23" fill="#c0c0c0"/>
<rect x="614" y="385" width="3" height="24" fill="#c0c0c0"/>
<rect x="622" y="384" width="3" height="25" fill="#c0c0c0"/>
<rect x="630" y="382" width="3" height="27" fill="#c0c0c0"/>
<rect x="638" y="381" width="3" height="28" fill="#c0c0c0"/>
<rect x="646" y="380" width="3" height="29" fill="#c0c0c0"/>
<rect x="654" y="380" width="3" height="29" fill="#c0c0c0"/>
<rect x="662" y="382" width="3" height="27" fill="#c0c0c0"/>
<rect x="670" y="387" width="3" height="22" fill="#c0c0c0"/>
<rect x="678" y="391" width="3" height="18" fill="#c0c0c0"/>
<rect x="686" y="393" width="3" height="16" fill="#c0c0c0"/>
<rect x="694" y="394" width="3" height="15" fill="#c0c0c0"/>
<rect x="702" y="395" width="3" height="14" fill="#c0c0c0"/>
<rect x="710" y="394" width="3" height="15" fill="#c0c0c0"/>
<rect x="718" y="391" width="3" height="18" fill="#c0c0c0"/>
<rect x="726" y="390" width="3" height="19" fill="#c0c0c0"/>
<rect x="734" y="392" width="3" height="17" fill="#c0c0c0"/>
<rect x="742" y="390" width="3" height="19" fill="#c0c0c0"/>
<rect x="750" y="388" width="3" height="21" fill="#c0c0c0"/>
<rect x="758" y="386" width="3" height="23" fill="#c0c0c0"/>
<rect x="766" y="385" width="3" height="24" fill="#c0c0c0"/>
<rect x="774" y="387" width="3" height="22" fill="#c0c0c0"/>
<rect x="782" y="390" width="3" height="19" fill="#c0c0c0"/>
<rect x="790" y="391" width="3" height="18" fill="#c0c0c0"/>
<rect x="798" y="393" width="3" height="16" fill="#c0c0c0"/>
<rect x="806" y="395" width="3" height="14" fill="#c0c0c0"/>
<rect x="814" y="397" width="3" height="12" fill="#c0c0c0"/>
<rect x="822" y="399" width="3" height="10" fill="#c0c0c0"/>
<rect x="830" y="401" width="3" height="8" fill="#c0c0c0"/>
<rect x="838" y="407" width="3" height="2" fill="#c0c0c0"/>
<rect x="846" y="409" width="3" height="2" fill="#c0c0c0"/>
<rect x="854" y="409" width="3" height="2" fill="#c0c0c0"/>
<rect x="862" y="409" width="3" height="4" fill="#c0c0c0"/>
<rect x="870" y="409" width="3" height="3" fill="#c0c0c0"/>
<rect x="878" y="409" width="3" height="4" fill="#c0c0c0"/>
<rect x="886" y="409" width="3" height="7" fill="#c0c0c0"/>
<rect x="894" y="409" width="3" height="9" fill="#c0c0c0"/>
<rect x="902" y="409" width="3" height="9" fill="#c0c0c0"/>
<rect x="910" y="409" width="3" height="12" fill="#c0c0c0"/>
<rect x="918" y="409" width="3" height="15" fill="#c0c0c0"/>
<path d="M660 383.5h16M652 384.5h8M676 384.5h8M644 385.5h8M684 385.5h8M636 386.5h8M692 386.5h6M628 387.5h8M698 387.5h4M620 388.5h8M702 388.5h6M612 389.5h8M708 389.5h8M772 389.5h40M604 390.5h8M716 390.5h8M764 390.5h8M812 390.5h8M598 391.5h6M724 391.5h8M756 391.5h8M820 391.5h6M594 392.5h4M732 392.5h24M826 392.5h4M590 393.5h4M830 393.5h4M586 394.5h4M834 394.5h4M582 395.5h4M838 395.5h3M7 396.5h3M578 396.5h4M841 396.5h3M10 397.5h4M572 397.5h6M844 397.5h2M14 398.5h4M156 398.5h40M566 398.5h6M846 398.5h4M18 399.5h4M148 399.5h8M196 399.5h16M562 399.5h4M850 399.5h4M22 400.5h6M142 400.5h6M212 400.5h6M558 400.5h4M854 400.5h3M28 401.5h6M138 401.5h4M218 401.5h4M554 401.5h4M857 401.5h3M34 402.5h4M132 402.5h6M222 402.5h6M550 402.5h4M860 402.5h2M38 403.5h4M124 403.5h8M228 403.5h6M548 403.5h2M862 403.5h4M42 404.5h4M116 404.5h8M234 404.5h4M545 404.5h3M866 404.5h4M46 405.5h6M108 405.5h8M238 405.5h6M542 405.5h3M870 405.5h6M52 406.5h8M92 406.5h16M244 406.5h6M538 406.5h4M876 406.5h6M60 407.5h32M250 407.5h4M534 407.5h4M882 407.5h4M254 408.5h4M530 408.5h4M886 408.5h4M258 409.5h4M524 409.5h6M890 409.5h4M262 410.5h6M518 410.5h6M894 410.5h4M268 411.5h6M514 411.5h4M898 411.5h4M274 412.5h4M510 412.5h4M902 412.5h4M278 413.5h3M508 413.5h2M906 413.5h4M281 414.5h3M505 414.5h3M910 414.5h6M284 415.5h2M502 415.5h3M916 415.5h3M286 416.5h3M498 416.5h4M289 417.5h3M494 417.5h4M292 418.5h2M490 418.5h4M294 419.5h4M486 419.5h4M298 420.5h4M482 420.5h4M302 421.5h4M478 421.5h4M306 422.5h4M474 422.5h4M310 423.5h3M468 423.5h6M313 424.5h3M462 424.5h6M316 425.5h2M458 425.5h4M318 426.5h4M454 426.5h4M322 427.5h4M450 427.5h4M326 428.5h6M444 428.5h6M332 429.5h6M436 429.5h8M338 430.5h4M428 430.5h8M342 431.5h6M420 431.5h8M348 432.5h8M412 432.5h8M356 433.5h8M404 433.5h8M364 434.5h8M396 434.5h8M372 435.5h24" fill="none" stroke="#ff0000" stroke-width="1"/>
</g>
<g clip-path="url(#c3)">
<line x1="8" y1="463.5" x2="1169" y2="463.5" stroke="#c0c0c0" stroke-width="1" stroke-dasharray="3 3"/>
<line x1="8" y1="488.5" x2="1169" y2="488.5" stroke="#c0c0c0" stroke-width="1" stroke-dasharray="3 3"/>
<path d="M599 460.5h1M597 461.5h2M600 461.5h2M644 461.5h6M566 462.5h3M596 462.5h1M602 462.5h1M630 462.5h14M650 462.5h4M550 463.5h6M562 463.5h4M569 463.5h3M594 463.5h2M603 463.5h1M626 463.5h4M654 463.5h2M495 464.5h2M548 464.5h2M556 464.5h6M572 464.5h2M592 464.5h2M604 464.5h2M620 464.5h6M656 464.5h2M494 465.5h1M497 465.5h2M545 465.5h3M574 465.5h6M588 465.5h4M606 465.5h1M612 465.5h8M658 465.5h2M718 465.5h4M756 465.5h8M140 466.5h6M493 466.5h1M499 466.5h2M534 466.5h11M580 466.5h8M607 466.5h5M660 466.5h1M716 466.5h2M722 466.5h4M748 466.5h8M764 466.5h4M132 467.5h8M146 467.5h4M492 467.5h1M501 467.5h2M530 467.5h4M661 467.5h2M713 467.5h3M726 467.5h3M743 467.5h5M768 467.5h2M124 468.5h8M150 468.5h2M490 468.5h2M503 468.5h10M526 468.5h4M663 468.5h1M711 468.5h2M729 468.5h2M741 468.5h2M770 468.5h2M118 469.5h6M152 469.5h1M489 469.5h1M513 469.5h3M524 469.5h2M664 469.5h1M709 469.5h2M731 469.5h2M739 469.5h2M772 469.5h1M52 470.5h6M116 470.5h2M153 470.5h1M488 470.5h1M516 470.5h2M521 470.5h3M665 470.5h1M707 470.5h2M733 470.5h2M737 470.5h2M773 470.5h2M47 471.5h5M58 471.5h4M76 471.5h6M94 471.5h2M113 471.5h3M154 471.5h1M199 471.5h2M487 471.5h1M518 471.5h3M666 471.5h1M705 471.5h2M735 471.5h2M775 471.5h5M46 472.5h1M62 472.5h14M82 472.5h4M90 472.5h4M96 472.5h2M111 472.5h2M155 472.5h1M197 472.5h2M201 472.5h2M485 472.5h2M667 472.5h1M692 472.5h13M780 472.5h8M45 473.5h1M86 473.5h4M98 473.5h2M109 473.5h2M156 473.5h1M195 473.5h2M203 473.5h2M452 473.5h14M484 473.5h1M667 473.5h1M686 473.5h6M788 473.5h14M814 473.5h3M44 474.5h1M100 474.5h1M107 474.5h2M157 474.5h1M193 474.5h2M205 474.5h2M447 474.5h5M466 474.5h4M482 474.5h2M668 474.5h1M684 474.5h2M802 474.5h4M810 474.5h4M817 474.5h3M7 475.5h2M43 475.5h1M101 475.5h2M105 475.5h2M158 475.5h1M190 475.5h3M207 475.5h2M446 475.5h1M470 475.5h6M480 475.5h2M669 475.5h1M681 475.5h3M806 475.5h4M820 475.5h2M871 475.5h3M9 476.5h2M42 476.5h1M103 476.5h2M159 476.5h13M188 476.5h2M209 476.5h3M445 476.5h1M476 476.5h4M670 476.5h1M676 476.5h5M822 476.5h4M855 476.5h2M869 476.5h2M874 476.5h4M11 477.5h2M41 477.5h1M172 477.5h8M185 477.5h3M212 477.5h2M444 477.5h1M671 477.5h5M826 477.5h4M854 477.5h1M857 477.5h3M867 477.5h2M878 477.5h3M13 478.5h2M40 478.5h1M180 478.5h5M214 478.5h12M431 478.5h2M442 478.5h2M830 478.5h2M852 478.5h2M860 478.5h2M865 478.5h2M881 478.5h2M15 479.5h3M30 479.5h10M226 479.5h4M429 479.5h2M433 479.5h3M441 479.5h1M832 479.5h2M851 479.5h1M862 479.5h3M883 479.5h2M18 480.5h4M26 480.5h4M230 480.5h20M427 480.5h2M436 480.5h2M440 480.5h1M834 480.5h2M850 480.5h1M885 480.5h2M900 480.5h5M22 481.5h4M250 481.5h4M425 481.5h2M438 481.5h2M836 481.5h1M848 481.5h2M887 481.5h13M905 481.5h3M254 482.5h3M412 482.5h13M837 482.5h2M844 482.5h4M908 482.5h2M257 483.5h2M380 483.5h6M406 483.5h6M839 483.5h5M910 483.5h9M259 484.5h2M270 484.5h20M372 484.5h8M386 484.5h4M404 484.5h2M261 485.5h2M266 485.5h4M290 485.5h4M364 485.5h8M390 485.5h6M401 485.5h3M263 486.5h3M294 486.5h3M351 486.5h13M396 486.5h5M297 487.5h3M349 487.5h2M300 488.5h2M308 488.5h16M348 488.5h1M302 489.5h6M324 489.5h14M346 489.5h2M338 490.5h4M344 490.5h2M342 491.5h2" fill="none" stroke="#1e90ff" stroke-width="1"/>
</g>
<rect x="6" y="24" width="1164" height="1" fill="#000"/>
<rect x="6" y="374" width="1164" height="1" fill="#000"/>
<rect x="6" y="24" width="1" height="351" fill="#000"/>
<rect x="1169" y="24" width="1" height="351" fill="#000"/>
<rect x="6" y="376" width="1164" height="1" fill="#000"/>
<rect x="6" y="440" width="1164" height="1" fill="#000"/>
<rect x="6" y="376" width="1" height="65" fill="#000"/>
<rect x="1169" y="376" width="1" height="65" fill="#000"/>
<rect x="6" y="442" width="1164" height="1" fill="#000"/>
<rect x="6" y="508" width="1164" height="1" fill="#000"/>
<rect x="6" y="442" width="1" height="67" fill="#000"/>
<rect x="1169" y="442" width="1" height="67" fill="#000"/>
<rect x="1170" y="41" width="2" height="1" fill="#000"/>
<rect x="1170" y="74" width="2" height="1" fill="#000"/>
<rect x="1170" y="107" width="2" height="1" fill="#000"/>
<rect x="1170" y="140" width="2" height="1" fill="#000"/>
<rect x="1170" y="173" width="2" height="1" fill="#000"/>
<rect x="1170" y="206" width="2" height="1" fill="#000"/>
<rect x="1170" y="239" width="2" height="1" fill="#000"/>
<rect x="1170" y="272" width="2" height="1" fill="#000"/>
<rect x="1170" y="305" width="2" height="1" fill="#000"/>
<rect x="1170" y="338" width="2" height="1" fill="#000"/>
<rect x="1170" y="371" width="2" height="1" fill="#000"/>
<rect x="1170" y="409" width="2" height="1" fill="#000"/>
<rect x="1170" y="378" width="1" height="1" fill="#000"/>
<rect x="1170" y="438" width="1" height="1" fill="#000"/>
<rect x="1170" y="444" width="1" height="1" fill="#000"/>
<rect x="1170" y="507" width="1" height="1" fill="#000"/>
<rect x="7" y="509" width="1" height="3" fill="#000"/>
<rect x="71" y="509" width="1" height="3" fill="#000"/>
<rect x="135" y="509" width="1" height="3" fill="#000"/>
<rect x="199" y="509" width="1" height="3" fill="#000"/>
<rect x="263" y="509" width="1" height="3" fill="#000"/>
<rect x="327" y="509" width="1" height="3" fill="#000"/>
<rect x="391" y="509" width="1" height="3" fill="#000"/>
<rect x="455" y="509" width="1" height="3" fill="#000"/>
<rect x="519" y="509" width="1" height="3" fill="#000"/>
<rect x="583" y="509" width="1" height="3" fill="#000"/>
<rect x="647" y="509" width="1" height="3" fill="#000"/>
<rect x="711" y="509" width="1" height="3" fill="#000"/>
<rect x="775" y="509" width="1" height="3" fill="#000"/>
<rect x="839" y="509" width="1" height="3" fill="#000"/>
<rect x="903" y="509" width="1" height="3" fill="#000"/>
<text x="1175.05" y="45" font-size="10.0" fill="#000" stroke="#000" stroke-width="0.2" textLength="32.69" lengthAdjust="spacingAndGlyphs" xml:space="preserve">1.29640</text>
<text x="1175.05" y="78" font-size="10.0" fill="#000" stroke="#000" stroke-width="0.2" textLength="32.69" lengthAdjust="spacingAndGlyphs" xml:space="preserve">1.28960</text>
<text x="1175.05" y="111" font-size="10.0" fill="#000" stroke="#000" stroke-width="0.2" textLength="32.69" lengthAdjust="spacingAndGlyphs" xml:space="preserve">1.28260</text>
<text x="1175.05" y="144" font-size="10.0" fill="#000" stroke="#000" stroke-width="0.2" textLength="32.69" lengthAdjust="spacingAndGlyphs" xml:space="preserve">1.27580</text>
<text x="1175.05" y="177" font-size="10.0" fill="#000" stroke="#000" stroke-width="0.2" textLength="32.69" lengthAdjust="spacingAndGlyphs" xml:space="preserve">1.26880</text>
<text x="1175.05" y="210" font-size="10.0" fill="#000" stroke="#000" stroke-width="0.2" textLength="32.69" lengthAdjust="spacingAndGlyphs" xml:space="preserve">1.26200</text>
<text x="1175.05" y="243" font-size="10.0" fill="#000" stroke="#000" stroke-width="0.2" textLength="32.69" lengthAdjust="spacingAndGlyphs" xml:space="preserve">1.25500</text>
<text x="1175.05" y="276" font-size="10.0" fill="#000" stroke="#000" stroke-width="0.2" textLength="32.69" lengthAdjust="spacingAndGlyphs" xml:space="preserve">1.24820</text>
<text x="1175.05" y="309" font-size="10.0" fill="#000" stroke="#000" stroke-width="0.2" textLength="32.69" lengthAdjust="spacingAndGlyphs" xml:space="preserve">1.24140</text>
<text x="1175.05" y="342" font-size="10.0" fill="#000" stroke="#000" stroke-width="0.2" textLength="32.69" lengthAdjust="spacingAndGlyphs" xml:space="preserve">1.23440</text>
<text x="1175.05" y="375" font-size="10.0" fill="#000" stroke="#000" stroke-width="0.2" textLength="32.69" lengthAdjust="spacingAndGlyphs" xml:space="preserve">1.22760</text>
<text x="1172.83" y="387" font-size="10.0" fill="#000" stroke="#000" stroke-width="0.2" textLength="37.81" lengthAdjust="spacingAndGlyphs" xml:space="preserve">0.009345</text>
<text x="1172.81" y="413" font-size="10.0" fill="#000" stroke="#000" stroke-width="0.2" textLength="18.46" lengthAdjust="spacingAndGlyphs" xml:space="preserve">0.00</text>
<text x="1172.83" y="437" font-size="10.0" fill="#000" stroke="#000" stroke-width="0.2" textLength="40.83" lengthAdjust="spacingAndGlyphs" xml:space="preserve">-0.008902</text>
<text x="1173.04" y="453" font-size="10.0" fill="#000" stroke="#000" stroke-width="0.2" textLength="15.33" lengthAdjust="spacingAndGlyphs" xml:space="preserve">100</text>
<text x="1172.25" y="467" font-size="10.0" fill="#000" stroke="#000" stroke-width="0.2" textLength="9.70" lengthAdjust="spacingAndGlyphs" xml:space="preserve">70</text>
<text x="1172.34" y="492" font-size="10.0" fill="#000" stroke="#000" stroke-width="0.2" textLength="9.60" lengthAdjust="spacingAndGlyphs" xml:space="preserve">30</text>
<text x="1172.83" y="505" font-size="10.0" fill="#000" stroke="#000" stroke-width="0.2" textLength="5.04" lengthAdjust="spacingAndGlyphs" xml:space="preserve">0</text>
<rect x="1171" y="73" width="41" height="11" fill="#ff0000"/>
<text x="1175.05" y="82" font-size="10.0" fill="#fff" stroke="#fff" stroke-width="0.2" textLength="32.79" lengthAdjust="spacingAndGlyphs" xml:space="preserve">1.28851</text>
<rect x="1171" y="137" width="41" height="11" fill="#00ff00"/>
<text x="1175.05" y="146" font-size="10.0" fill="#fff" stroke="#fff" stroke-width="0.2" textLength="32.69" lengthAdjust="spacingAndGlyphs" xml:space="preserve">1.27515</text>
<rect x="1171" y="200" width="41" height="11" fill="#0000ff"/>
<text x="1175.05" y="209" font-size="10.0" fill="#fff" stroke="#fff" stroke-width="0.2" textLength="32.79" lengthAdjust="spacingAndGlyphs" xml:space="preserve">1.26199</text>
<rect x="1171" y="223" width="41" height="10" fill="#000000"/>
<text x="1175.05" y="232" font-size="10.0" fill="#fff" stroke="#fff" stroke-width="0.2" textLength="32.69" lengthAdjust="spacingAndGlyphs" xml:space="preserve">1.25765</text>
<rect x="1171" y="258" width="41" height="11" fill="#0000ff"/>
<text x="1175.05" y="267" font-size="10.0" fill="#fff" stroke="#fff" stroke-width="0.2" textLength="32.69" lengthAdjust="spacingAndGlyphs" xml:space="preserve">1.24995</text>
<rect x="1171" y="314" width="41" height="11" fill="#0000ff"/>
<text x="1175.05" y="323" font-size="10.0" fill="#fff" stroke="#fff" stroke-width="0.2" textLength="32.69" lengthAdjust="spacingAndGlyphs" xml:space="preserve">1.23810</text>
<text x="6.09" y="521" font-size="10.0" fill="#000" stroke="#000" stroke-width="0.2" textLength="46.81" lengthAdjust="spacingAndGlyphs" xml:space="preserve">1 Sep 2021</text>
<text x="70.09" y="521" font-size="10.0" fill="#000" stroke="#000" stroke-width="0.2" textLength="51.55" lengthAdjust="spacingAndGlyphs" xml:space="preserve">10 Sep 2021</text>
<text x="134.28" y="521" font-size="10.0" fill="#000" stroke="#000" stroke-width="0.2" textLength="51.61" lengthAdjust="spacingAndGlyphs" xml:space="preserve">20 Sep 2021</text>
<text x="198.28" y="521" font-size="10.0" fill="#000" stroke="#000" stroke-width="0.2" textLength="51.61" lengthAdjust="spacingAndGlyphs" xml:space="preserve">29 Sep 2021</text>
<text x="262.12" y="521" font-size="10.0" fill="#000" stroke="#000" stroke-width="0.2" textLength="45.32" lengthAdjust="spacingAndGlyphs" xml:space="preserve">8 Oct 2021</text>
<text x="325.83" y="521" font-size="10.0" fill="#000" stroke="#000" stroke-width="0.2" textLength="50.60" lengthAdjust="spacingAndGlyphs" xml:space="preserve">18 Oct 2021</text>
<text x="390.02" y="521" font-size="10.0" fill="#000" stroke="#000" stroke-width="0.2" textLength="50.40" lengthAdjust="spacingAndGlyphs" xml:space="preserve">27 Oct 2021</text>
<text x="454.11" y="521" font-size="10.0" fill="#000" stroke="#000" stroke-width="0.2" textLength="48.80" lengthAdjust="spacingAndGlyphs" xml:space="preserve">5 Nov 2021</text>
<text x="517.82" y="521" font-size="10.0" fill="#000" stroke="#000" stroke-width="0.2" textLength="53.07" lengthAdjust="spacingAndGlyphs" xml:space="preserve">15 Nov 2021</text>
<text x="582.02" y="521" font-size="10.0" fill="#000" stroke="#000" stroke-width="0.2" textLength="52.87" lengthAdjust="spacingAndGlyphs" xml:space="preserve">24 Nov 2021</text>
<text x="646.12" y="521" font-size="10.0" fill="#000" stroke="#000" stroke-width="0.2" textLength="46.51" lengthAdjust="spacingAndGlyphs" xml:space="preserve">3 Dec 2021</text>
<text x="709.84" y="521" font-size="10.0" fill="#000" stroke="#000" stroke-width="0.2" textLength="51.54" lengthAdjust="spacingAndGlyphs" xml:space="preserve">13 Dec 2021</text>
<text x="774.03" y="521" font-size="10.0" fill="#000" stroke="#000" stroke-width="0.2" textLength="51.86" lengthAdjust="spacingAndGlyphs" xml:space="preserve">22 Dec 2021</text>
<text x="838.13" y="521" font-size="10.0" fill="#000" stroke="#000" stroke-width="0.2" textLength="51.51" lengthAdjust="spacingAndGlyphs" xml:space="preserve">31 Dec 2021</text>
<text x="901.86" y="521" font-size="10.0" fill="#000" stroke="#000" stroke-width="0.2" textLength="49.10" lengthAdjust="spacingAndGlyphs" xml:space="preserve">10 Jan 2022</text>
<rect x="10" y="31" width="7" height="1" fill="#000"/>
<rect x="11" y="32" width="5" height="1" fill="#000"/>
<rect x="12" y="33" width="3" height="1" fill="#000"/>
<rect x="13" y="34" width="1" height="1" fill="#000"/>
<text x="21.90" y="36" font-size="10.0" fill="#000" stroke="#000" stroke-width="0.2" textLength="68.34" lengthAdjust="spacingAndGlyphs" xml:space="preserve">USDCAD-,Daily</text>
<text x="97.25" y="36" font-size="10.0" fill="#000" stroke="#000" stroke-width="0.2" textLength="32.48" lengthAdjust="spacingAndGlyphs" xml:space="preserve">1.25772</text>
<text x="133.15" y="36" font-size="10.0" fill="#000" stroke="#000" stroke-width="0.2" textLength="32.69" lengthAdjust="spacingAndGlyphs" xml:space="preserve">1.25788</text>
<text x="169.25" y="36" font-size="10.0" fill="#000" stroke="#000" stroke-width="0.2" textLength="32.69" lengthAdjust="spacingAndGlyphs" xml:space="preserve">1.25749</text>
<text x="205.25" y="36" font-size="10.0" fill="#000" stroke="#000" stroke-width="0.2" textLength="32.69" lengthAdjust="spacingAndGlyphs" xml:space="preserve">1.25765</text>
<text x="10.71" y="389" font-size="10.0" fill="#000" stroke="#000" stroke-width="0.2" textLength="66.57" lengthAdjust="spacingAndGlyphs" xml:space="preserve">MACD(12,26,9)</text>
<text x="79.83" y="389" font-size="10.0" fill="#000" stroke="#000" stroke-width="0.2" textLength="40.74" lengthAdjust="spacingAndGlyphs" xml:space="preserve">-0.003955</text>
<text x="124.03" y="389" font-size="10.0" fill="#000" stroke="#000" stroke-width="0.2" textLength="40.74" lengthAdjust="spacingAndGlyphs" xml:space="preserve">-0.001750</text>
<text x="10.52" y="455" font-size="10.0" fill="#000" stroke="#000" stroke-width="0.2" textLength="32.69" lengthAdjust="spacingAndGlyphs" xml:space="preserve">RSI(14)</text>
<text x="45.52" y="455" font-size="10.0" fill="#000" stroke="#000" stroke-width="0.2" textLength="33.33" lengthAdjust="spacingAndGlyphs" xml:space="preserve">37.7060</text>
<rect x="1188" y="537" width="1" height="7" fill="#9c9c9c"/>
<rect x="1204" y="537" width="1" height="7" fill="#9c9c9c"/>
<rect x="1187" y="538" width="1" height="5" fill="#9c9c9c"/>
<rect x="1205" y="538" width="1" height="5" fill="#9c9c9c"/>
<rect x="1186" y="539" width="1" height="3" fill="#9c9c9c"/>
<rect x="1206" y="539" width="1" height="3" fill="#9c9c9c"/>
<rect x="1185" y="540" width="1" height="1" fill="#9c9c9c"/>
<rect x="1207" y="540" width="1" height="1" fill="#9c9c9c"/>
</svg>
</body></html>
